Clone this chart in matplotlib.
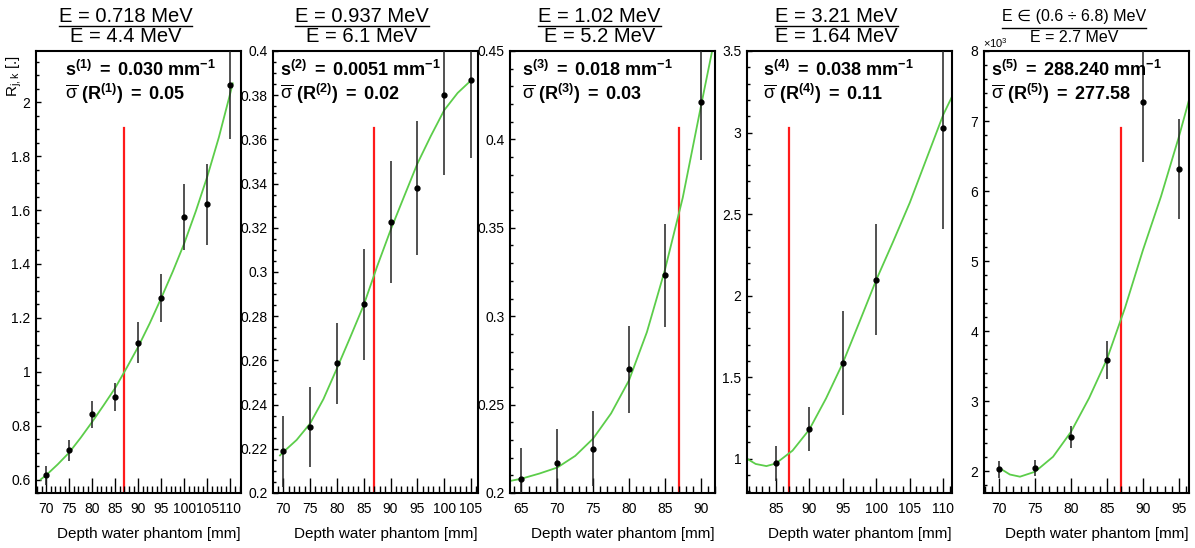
import matplotlib
matplotlib.use('Agg')
import matplotlib.pyplot as plt
from matplotlib.lines import Line2D
from matplotlib.ticker import MultipleLocator, FormatStrFormatter

plt.rcParams['font.family'] = ['Liberation Sans', 'DejaVu Sans']
plt.rcParams['mathtext.fontset'] = 'custom'
plt.rcParams['mathtext.rm'] = 'Liberation Sans'
plt.rcParams['mathtext.it'] = 'Liberation Sans:italic'
plt.rcParams['mathtext.bf'] = 'Liberation Sans:bold'

# ratio R_jk vs depth for each pair of gamma lines, with fitted curves
depth1 = [70, 75, 80, 85, 90, 95, 100, 105, 110]
ratio1 = [0.616, 0.708, 0.842, 0.907, 1.108, 1.273, 1.574, 1.621, 2.063]
err1 = [0.035, 0.040, 0.051, 0.053, 0.075, 0.090, 0.124, 0.150, 0.200]
fit_x1 = [68.8, 70, 72.5, 75, 77.5, 80, 82.5, 85, 87.5, 90, 92.5, 95, 97.5,
          100, 102.5, 105, 107.5, 110, 110.5]
fit_y1 = [0.600, 0.616, 0.656, 0.700, 0.755, 0.814, 0.876, 0.940, 1.015,
          1.093, 1.180, 1.274, 1.372, 1.477, 1.596, 1.725, 1.870, 2.035, 2.070]

depth2 = [70, 75, 80, 85, 90, 95, 100, 105]
ratio2 = [0.2189, 0.2299, 0.2586, 0.2854, 0.3226, 0.338, 0.380, 0.3867]
err2 = [0.016, 0.018, 0.0185, 0.025, 0.0275, 0.0305, 0.036, 0.035]
fit_x2 = [69.4, 70, 72.5, 75, 77.5, 80, 82.5, 85, 87.5, 90, 92.5, 95, 97.5,
          100, 102.5, 105]
fit_y2 = [0.217, 0.2185, 0.2240, 0.2314, 0.2425, 0.2563, 0.2705, 0.285,
          0.3025, 0.3189, 0.334, 0.349, 0.3615, 0.3732, 0.381, 0.3867]

depth3 = [65, 70, 75, 80, 85, 90]
ratio3 = [0.2077, 0.2172, 0.2251, 0.270, 0.3231, 0.4211]
err3 = [0.018, 0.019, 0.021, 0.0245, 0.029, 0.033]
fit_x3 = [63.4, 65, 67.5, 70, 72.5, 75, 77.5, 80, 82.5, 85, 87.5, 90, 91.6]
fit_y3 = [0.2068, 0.2081, 0.211, 0.2144, 0.221, 0.2308, 0.245, 0.2637,
          0.291, 0.326, 0.367, 0.418, 0.450]

depth4 = [85, 90, 95, 100, 110]
ratio4 = [0.971, 1.184, 1.587, 2.097, 3.029]
err4 = [0.11, 0.135, 0.32, 0.34, 0.62]
fit_x4 = [80.7, 82, 83.6, 85, 87.5, 90, 92.5, 95, 97.5, 100, 102.5, 105,
          107.5, 110, 111.3]
fit_y4 = [1.0, 0.968, 0.955, 0.971, 1.05, 1.179, 1.37, 1.587, 1.84, 2.097,
          2.33, 2.57, 2.84, 3.11, 3.22]

# panel 5 values are in units of 10^3
depth5 = [70, 75, 80, 85, 90, 95]
ratio5 = [2.024, 2.047, 2.490, 3.586, 7.276, 6.314]
err5 = [0.12, 0.115, 0.16, 0.27, 0.86, 0.72]
fit_x5 = [70.1, 71.5, 72.9, 75, 77.5, 80, 82.5, 85, 87.5, 90, 92.5, 95, 96.4]
fit_y5 = [2.039, 1.95, 1.919, 1.99, 2.204, 2.561, 3.04, 3.60, 4.33, 5.157,
          5.92, 6.776, 7.30]

titles_top = ['E = 0.718 MeV', 'E = 0.937 MeV', 'E = 1.02 MeV',
              'E = 3.21 MeV', 'E \u2208 (0.6 \u00f7 6.8) MeV']
titles_bottom = ['E = 4.4 MeV', 'E = 6.1 MeV', 'E = 5.2 MeV',
                 'E = 1.64 MeV', 'E = 2.7 MeV']
slopes = ['0.030', '0.0051', '0.018', '0.038', '288.240']
sigmas = ['0.05', '0.02', '0.03', '0.11', '277.58']

peak_depth = 87

panels = [
    dict(x=depth1, y=ratio1, e=err1, fx=fit_x1, fy=fit_y1,
         xlim=(67.8, 112.3), ylim=(0.55, 2.19), ymaj=0.2, ymin=0.05),
    dict(x=depth2, y=ratio2, e=err2, fx=fit_x2, fy=fit_y2,
         xlim=(68.1, 106.3), ylim=(0.2, 0.4), ymaj=0.02, ymin=0.005),
    dict(x=depth3, y=ratio3, e=err3, fx=fit_x3, fy=fit_y3,
         xlim=(63.4, 92.0), ylim=(0.2, 0.45), ymaj=0.05, ymin=0.01),
    dict(x=depth4, y=ratio4, e=err4, fx=fit_x4, fy=fit_y4,
         xlim=(80.7, 111.3), ylim=(0.79, 3.5), ymaj=0.5, ymin=0.1),
    dict(x=depth5, y=ratio5, e=err5, fx=fit_x5, fy=fit_y5,
         xlim=(67.9, 96.4), ylim=(1.686, 8.0), ymaj=1, ymin=0.2),
]

W, H = 1195, 548
fig = plt.figure(figsize=(W / 100, H / 100), dpi=100)

lefts = [36, 273, 510, 747, 984]
ax_top, ax_bottom, ax_w = 51, 493, 205
text_x = [0.141, 0.034, 0.057, 0.080, 0.033]
title_cx = [125.5, 361.7, 599.5, 836.7, 1073.7]

axes = []
for i, p in enumerate(panels):
    ax = fig.add_axes([lefts[i] / W, 1 - ax_bottom / H, ax_w / W,
                       (ax_bottom - ax_top) / H])
    axes.append(ax)
    ax.errorbar(p['x'], p['y'], yerr=p['e'], fmt='o', color='black',
                ecolor='#222222', elinewidth=1.1, markersize=3.5, capsize=0,
                zorder=3)
    ax.plot(p['fx'], p['fy'], color='#5ccd4a', lw=1.3, zorder=2)
    ax.axvline(peak_depth, ymax=0.826, color='#ff1a1a', lw=1.6, zorder=1)
    ax.set_xlim(*p['xlim'])
    ax.set_ylim(*p['ylim'])

    ax.xaxis.set_major_locator(MultipleLocator(5))
    ax.xaxis.set_minor_locator(MultipleLocator(1))
    ax.yaxis.set_major_locator(MultipleLocator(p['ymaj']))
    ax.yaxis.set_minor_locator(MultipleLocator(p['ymin']))
    ax.xaxis.set_major_formatter(FormatStrFormatter('%g'))
    ax.yaxis.set_major_formatter(FormatStrFormatter('%g'))
    ax.tick_params(axis='both', which='both', direction='in', top=False,
                   right=False, width=1.0, labelsize=10, colors='black')
    ax.tick_params(axis='x', which='major', length=10.8, pad=6.3)
    ax.tick_params(axis='x', which='minor', length=5.4)
    ax.tick_params(axis='y', which='major', length=3.8, pad=4)
    ax.tick_params(axis='y', which='minor', length=2.0)
    for s in ax.spines.values():
        s.set_linewidth(1.5)

    n = i + 1
    ax.text(text_x[i], 0.943,
            r'$\mathbf{s^{(%d)}\ =\ %s\ mm^{-1}}$' % (n, slopes[i]),
            transform=ax.transAxes, fontsize=13, va='baseline', ha='left')
    ax.text(text_x[i], 0.889,
            r'$\overline{\mathrm{\sigma}}\ \mathbf{(R^{(%d)})\ =\ %s}$'
            % (n, sigmas[i]),
            transform=ax.transAxes, fontsize=13, va='baseline', ha='left')

    ax.text(1.0, (ax_bottom - 534) / (ax_bottom - ax_top),
            'Depth water phantom [mm]', transform=ax.transAxes,
            fontsize=11, ha='right', va='center')

# y axis title and exponent
fig.text(14.5 / W, 1 - 55 / H, r'R$_{\mathrm{j,k}}$ [.]', rotation=90,
         ha='center', va='top', fontsize=11)
fig.text(983 / W, 1 - 43 / H, r'$\times$10$^{3}$', ha='left',
         va='center', fontsize=8)

# fraction-style titles above each pad
fig.canvas.draw()
renderer = fig.canvas.get_renderer()
for i in range(5):
    size = 14.5 if i < 4 else 11.5
    y_num, y_line, y_den = (17.0, 26.0, 37.0) if i < 4 else (16.0, 27.7, 37.0)
    cx = title_cx[i] / W
    t1 = fig.text(cx, 1 - y_num / H, titles_top[i], ha='center',
                  va='center', fontsize=size)
    fig.text(cx, 1 - y_den / H, titles_bottom[i], ha='center',
             va='center', fontsize=size)
    bb = t1.get_window_extent(renderer)
    fig.add_artist(Line2D([bb.x0 / W, bb.x1 / W],
                          [1 - y_line / H, 1 - y_line / H],
                          transform=fig.transFigure, color='black', lw=1.0))

fig.savefig('out.png', dpi=100)
